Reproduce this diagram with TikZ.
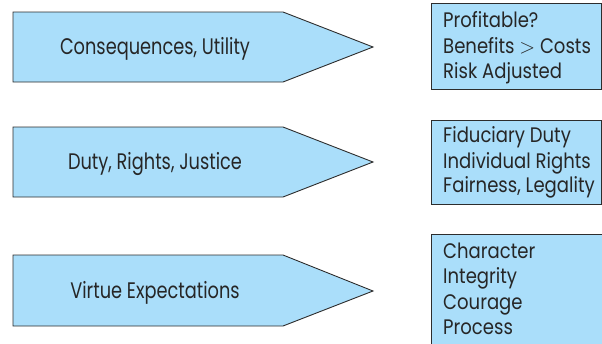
\documentclass[tikz,border=0pt]{standalone}
\usepackage{fontspec}
\setmainfont{Poppins}[FakeStretch=0.8]
\newfontfamily\leftfont{Poppins}[FakeStretch=0.79]
\newfontfamily\rightfont{Poppins}[FakeStretch=0.86]
\definecolor{fillblue}{RGB}{170,222,250}
\definecolor{edge}{RGB}{45,45,45}
\begin{document}
\begin{tikzpicture}[x=1pt,y=-1pt,
  shapeline/.style={draw=edge,fill=fillblue,line width=0.9pt,line join=miter},
  lefttext/.style={font=\leftfont\fontsize{22.5}{27}\selectfont,text=black!85,anchor=base,inner sep=0pt},
  righttext/.style={font=\rightfont\fontsize{21}{25}\selectfont,text=black!85,anchor=base west,inner sep=0pt}]
\useasboundingbox (0,0) rectangle (602,343);
\begin{scope}
\clip (0,0) rectangle (602,343);
% arrows
\draw[shapeline] (13,12) -- (283,12) -- (373,47) -- (283,82) -- (13,82) -- cycle;
\draw[shapeline] (13,127) -- (283,127) -- (373,162) -- (283,197) -- (13,197) -- cycle;
\draw[shapeline] (13,255) -- (283,255) -- (373,291) -- (283,326) -- (13,326) -- cycle;
% boxes
\draw[shapeline] (431,3) rectangle (601,89);
\draw[shapeline] (431,120) rectangle (601,204);
\draw[shapeline] (431,234) rectangle (610,350);
\end{scope}
\node[lefttext] (a1) at (155,54) {Consequences, Utility};
\node[lefttext] (a2) at (155,169) {Duty, Rights, Justice};
\node[lefttext] (a3) at (155,298) {Virtue Expectations};
\node[righttext] (b11) at (443,27) {Profitable?};
\node[righttext] (b12) at (443,53) {Benefits $>$ Costs};
\node[righttext] (b13) at (443,78) {Risk Adjusted};
\node[righttext] (b21) at (443,142) {Fiduciary Duty};
\node[righttext] (b22) at (443,168) {Individual Rights};
\node[righttext] (b23) at (443,192) {Fairness, Legality};
\node[righttext] (b31) at (443,258) {Character};
\node[righttext] (b32) at (443,283) {Integrity};
\node[righttext] (b33) at (443,309) {Courage};
\node[righttext] (b34) at (443,334) {Process};
\end{tikzpicture}
\end{document}
